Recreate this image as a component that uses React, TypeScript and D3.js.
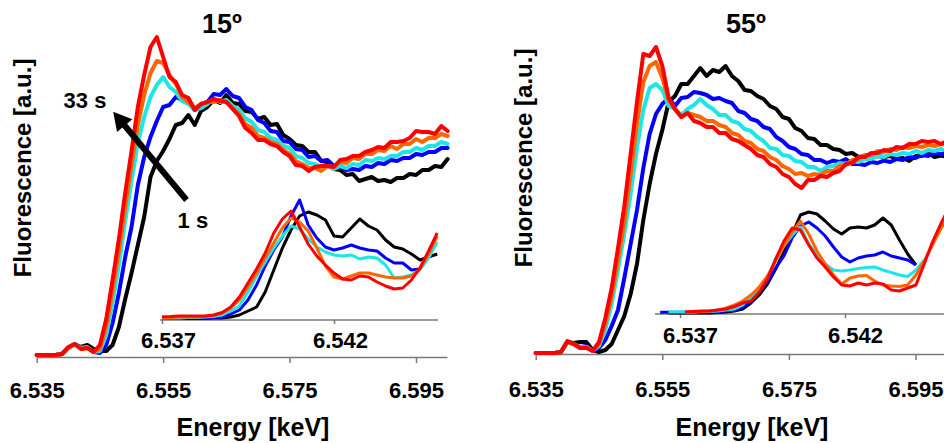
import React, { useEffect, useRef } from "react";
import * as d3 from "d3";

const W = 944;
const H = 443;
const FONT = "'Liberation Sans', Arial, Helvetica, sans-serif";

// black = 1 s ... red = 33 s (red drawn last, on top)
const seriesColors = ["#000000", "#0000ff", "#1ee6e6", "#ff6600", "#ff0000"];

// main spectra sampled at eV offsets above 6.535 keV
const mainOffsets = [0, ...d3.range(3, 66)];
const mainEnergy = mainOffsets.map((d) => 6.535 + d / 1000);
const mainTicks = [6.535, 6.555, 6.575, 6.595];

// ---- 15 degrees, main
const main15Black = [0.01, 0.01, 0.015, 0.045, 0.065, 0.05, 0.06, 0.04,
  0.03, 0.03, 0.06, 0.15, 0.29, 0.42, 0.56, 0.7, 0.9, 0.98,
  1.03, 1.09, 1.16, 1.17, 1.21, 1.16, 1.23, 1.25, 1.285, 1.27,
  1.31, 1.27, 1.265, 1.23, 1.225, 1.19, 1.2, 1.16, 1.165, 1.11,
  1.09, 1.06, 1.055, 1.025, 1.025, 0.98, 0.975, 0.94, 0.935, 0.91,
  0.915, 0.88, 0.89, 0.9, 0.88, 0.885, 0.875, 0.895, 0.895, 0.915,
  0.91, 0.935, 0.935, 0.955, 0.95, 0.99];
const main15Blue = [0.01, 0.01, 0.015, 0.045, 0.065, 0.045, 0.05, 0.025,
  0.02, 0.06, 0.17, 0.32, 0.5, 0.65, 0.86, 1.0, 1.1, 1.18,
  1.25, 1.26, 1.3, 1.285, 1.275, 1.235, 1.255, 1.275, 1.315, 1.31,
  1.34, 1.305, 1.295, 1.25, 1.235, 1.185, 1.17, 1.13, 1.125, 1.08,
  1.075, 1.04, 1.035, 1.0, 1.005, 0.98, 0.985, 0.955, 0.955, 0.935,
  0.94, 0.935, 0.955, 0.95, 0.97, 0.965, 0.985, 0.98, 0.995, 0.995,
  1.015, 1.01, 1.025, 1.025, 1.045, 1.045];
const main15Cyan = [0.01, 0.01, 0.015, 0.045, 0.065, 0.045, 0.05, 0.025,
  0.03, 0.11, 0.27, 0.46, 0.68, 0.88, 1.07, 1.2, 1.3, 1.36,
  1.4, 1.35, 1.325, 1.28, 1.265, 1.235, 1.245, 1.265, 1.29, 1.275,
  1.285, 1.255, 1.235, 1.195, 1.175, 1.135, 1.125, 1.095, 1.085, 1.055,
  1.045, 1.005, 0.995, 0.97, 0.965, 0.95, 0.955, 0.94, 0.955, 0.945,
  0.965, 0.96, 0.985, 0.98, 0.995, 0.99, 1.005, 1.005, 1.025, 1.025,
  1.045, 1.035, 1.055, 1.055, 1.075, 1.065];
const main15Orange = [0.01, 0.01, 0.015, 0.045, 0.065, 0.04, 0.045, 0.025,
  0.04, 0.15, 0.33, 0.53, 0.75, 0.96, 1.16, 1.31, 1.42, 1.48,
  1.47, 1.41, 1.365, 1.3, 1.275, 1.245, 1.265, 1.275, 1.275, 1.285,
  1.275, 1.245, 1.215, 1.165, 1.145, 1.105, 1.095, 1.075, 1.065, 1.035,
  1.015, 0.98, 0.965, 0.945, 0.945, 0.93, 0.955, 0.95, 0.975, 0.97,
  0.995, 0.99, 1.015, 1.015, 1.035, 1.03, 1.055, 1.04, 1.065, 1.065,
  1.09, 1.075, 1.095, 1.095, 1.115, 1.105];
const main15Red = [0.01, 0.01, 0.015, 0.05, 0.065, 0.04, 0.045, 0.025,
  0.06, 0.19, 0.385, 0.59, 0.82, 1.03, 1.25, 1.41, 1.55, 1.6,
  1.5, 1.4, 1.375, 1.31, 1.295, 1.235, 1.265, 1.275, 1.29, 1.28,
  1.275, 1.24, 1.205, 1.145, 1.12, 1.085, 1.085, 1.065, 1.055, 1.025,
  1.005, 0.96, 0.955, 0.93, 0.95, 0.955, 0.955, 0.95, 0.985, 0.99,
  1.005, 1.005, 1.025, 1.035, 1.05, 1.045, 1.075, 1.075, 1.08, 1.095,
  1.13, 1.125, 1.125, 1.115, 1.155, 1.13];

// ---- 55 degrees, main
const main55Black = [0.005, 0.005, 0.01, 0.06, 0.055, 0.06, 0.06, 0.02,
  0.01, 0.02, 0.05, 0.12, 0.19, 0.3, 0.45, 0.67, 0.85, 1.0,
  1.12, 1.26, 1.29, 1.35, 1.35, 1.39, 1.43, 1.39, 1.42, 1.41,
  1.44, 1.39, 1.365, 1.32, 1.315, 1.29, 1.275, 1.24, 1.225, 1.185,
  1.175, 1.13, 1.115, 1.08, 1.075, 1.045, 1.045, 1.025, 1.02, 1.0,
  1.005, 0.985, 0.99, 0.985, 0.99, 0.985, 0.99, 0.975, 0.98, 0.965,
  0.99, 0.99, 1.005, 0.985, 0.992, 0.985];
const main55Blue = [0.005, 0.005, 0.01, 0.06, 0.05, 0.035, 0.04, 0.015,
  0.03, 0.07, 0.14, 0.22, 0.38, 0.55, 0.72, 0.93, 1.1, 1.2,
  1.25, 1.28, 1.24, 1.28, 1.285, 1.31, 1.305, 1.295, 1.275, 1.28,
  1.265, 1.255, 1.215, 1.205, 1.175, 1.165, 1.135, 1.125, 1.085, 1.065,
  1.035, 1.025, 1.0, 0.995, 0.97, 0.97, 0.955, 0.967, 0.96, 0.975,
  0.95, 0.95, 0.945, 0.96, 0.955, 0.967, 0.96, 0.975, 0.97, 0.985,
  0.98, 0.995, 0.99, 1.005, 0.998, 1.01];
const main55Cyan = [0.005, 0.005, 0.01, 0.06, 0.05, 0.035, 0.035, 0.015,
  0.04, 0.12, 0.25, 0.42, 0.6, 0.8, 1.03, 1.22, 1.33, 1.35,
  1.32, 1.24, 1.225, 1.195, 1.225, 1.245, 1.275, 1.245, 1.225, 1.195,
  1.195, 1.165, 1.155, 1.125, 1.115, 1.085, 1.065, 1.03, 1.025, 0.995,
  0.99, 0.965, 0.96, 0.935, 0.935, 0.915, 0.935, 0.94, 0.955, 0.95,
  0.965, 0.96, 0.975, 0.975, 0.99, 0.985, 1.0, 0.995, 1.005, 1.0,
  1.015, 1.005, 1.02, 1.015, 1.025, 1.015];
const main55Orange = [0.005, 0.005, 0.01, 0.06, 0.05, 0.03, 0.035, 0.015,
  0.05, 0.15, 0.29, 0.47, 0.66, 0.9, 1.15, 1.36, 1.44, 1.46,
  1.38, 1.27, 1.225, 1.185, 1.205, 1.195, 1.185, 1.165, 1.165, 1.145,
  1.135, 1.105, 1.095, 1.065, 1.055, 1.025, 1.015, 0.985, 0.97, 0.94,
  0.925, 0.9, 0.905, 0.89, 0.9, 0.895, 0.915, 0.915, 0.94, 0.945,
  0.97, 0.975, 0.995, 0.995, 1.015, 1.01, 1.025, 1.02, 1.035, 1.03,
  1.04, 1.035, 1.045, 1.04, 1.05, 1.045];
const main55Red = [0.005, 0.005, 0.01, 0.065, 0.05, 0.03, 0.03, 0.015,
  0.06, 0.18, 0.33, 0.53, 0.74, 1.0, 1.26, 1.5, 1.49, 1.535,
  1.44, 1.28, 1.225, 1.185, 1.205, 1.165, 1.155, 1.135, 1.135, 1.105,
  1.105, 1.075, 1.065, 1.045, 1.025, 0.995, 0.985, 0.95, 0.935, 0.9,
  0.885, 0.85, 0.83, 0.87, 0.87, 0.89, 0.885, 0.905, 0.915, 0.95,
  0.955, 0.985, 0.985, 1.005, 1.005, 1.02, 1.015, 1.035, 1.03, 1.05,
  1.05, 1.065, 1.06, 1.065, 1.05, 1.065];

// ---- insets (pre-edge zoom), 0.25 eV steps
const insetEnergy15 = d3.range(33).map((k) => 6.537 + k * 0.00025);
const insetEnergy55 = d3.range(36).map((k) => 6.5364 + k * 0.00025);
const insetTicks = [6.537, 6.542];

const inset15Black = [0.015, 0.015, 0.015, 0.015, 0.015, 0.015, 0.02, 0.02, 0.03, 0.05, 0.09,
  0.13, 0.28, 0.5, 0.72, 0.9, 1.04, 1.08, 1.05, 1.0, 0.84, 0.83, 0.92, 1.01, 0.94, 0.9, 0.8,
  0.73, 0.71, 0.66, 0.6, 0.63, 0.66];
const inset15Blue = [0.02, 0.02, 0.02, 0.02, 0.02, 0.02, 0.025, 0.03, 0.06, 0.1, 0.2, 0.35,
  0.54, 0.7, 0.83, 1.04, 1.2, 0.95, 0.82, 0.73, 0.7, 0.72, 0.75, 0.72, 0.7, 0.69, 0.62, 0.57,
  0.57, 0.5, 0.51];
const inset15Cyan = [0.02, 0.02, 0.02, 0.025, 0.025, 0.03, 0.035, 0.05, 0.09, 0.14, 0.28, 0.44,
  0.58, 0.72, 0.84, 0.94, 0.91, 0.81, 0.73, 0.68, 0.65, 0.64, 0.65, 0.61, 0.63, 0.62, 0.55,
  0.42, 0.43, 0.45, 0.5, 0.62, 0.78];
const inset15Orange = [0.02, 0.025, 0.03, 0.03, 0.03, 0.035, 0.045, 0.07, 0.12, 0.2, 0.33, 0.47,
  0.62, 0.77, 0.92, 1.02, 0.98, 0.89, 0.72, 0.54, 0.43, 0.41, 0.44, 0.47, 0.47, 0.45, 0.43,
  0.42, 0.42, 0.44, 0.51, 0.66, 0.84];
const inset15Red = [0.033, 0.035, 0.04, 0.04, 0.04, 0.04, 0.05, 0.075, 0.13, 0.23, 0.37, 0.51,
  0.67, 0.87, 1.01, 1.09, 0.93, 0.76, 0.64, 0.55, 0.47, 0.41, 0.4, 0.44, 0.43, 0.38, 0.34,
  0.31, 0.32, 0.4, 0.52, 0.69, 0.87];

const inset55Black = [null, 0.01, 0.01, 0.01, 0.01, 0.01, 0.01, 0.015, 0.02, 0.03, 0.05, 0.11,
  0.19, 0.3, 0.45, 0.62, 0.8, 0.99, 1.02, 1.0, 0.93, 0.85, 0.8, 0.86, 0.87, 0.86, 0.89, 0.96,
  0.89, 0.74, 0.6, 0.49];
const inset55Blue = [0.017, 0.017, 0.017, 0.017, 0.017, 0.017, 0.02, 0.02, 0.03, 0.04, 0.07,
  0.12, 0.22, 0.33, 0.46, 0.58, 0.76, 0.88, 0.92, 0.86, 0.78, 0.67, 0.57, 0.52, 0.56, 0.58,
  0.59, 0.62, 0.58, 0.56, 0.54, 0.49];
const inset55Cyan = [null, 0.02, 0.02, 0.02, 0.02, 0.025, 0.025, 0.03, 0.04, 0.05, 0.09, 0.17,
  0.24, 0.36, 0.56, 0.68, 0.79, 0.87, 0.7, 0.59, 0.5, 0.44, 0.43, 0.44, 0.455, 0.465, 0.47,
  0.44, 0.415, 0.39, 0.375, 0.44, 0.54];
const inset55Orange = [null, null, null, 0.015, 0.02, 0.025, 0.03, 0.04, 0.06, 0.09, 0.13, 0.19,
  0.27, 0.38, 0.53, 0.68, 0.82, 0.93, 0.8, 0.63, 0.5, 0.39, 0.3, 0.36, 0.38, 0.385, 0.33, 0.29,
  0.28, 0.275, 0.29, 0.39, 0.53, 0.69, 0.85, 0.98];
const inset55Red = [null, null, null, 0.02, 0.025, 0.03, 0.03, 0.04, 0.05, 0.075, 0.11, 0.13,
  0.22, 0.35, 0.55, 0.73, 0.86, 0.84, 0.69, 0.56, 0.47, 0.37, 0.29, 0.28, 0.31, 0.29, 0.31,
  0.3, 0.24, 0.23, 0.26, 0.29, 0.5, 0.72, 0.9, 1.06];

// layout of the two panels
const panels = [
  {
    title: "15º",
    titleX: 222,
    yLabelX: 31,
    yLabelY: 168,
    xLabelX: 253,
    axisY: 357,
    mainDomain: [6.535, 6.5999],
    mainRange: [36.7, 447],
    mainLabelY: 41,
    main: [main15Black, main15Blue, main15Cyan, main15Orange, main15Red],
    insetEnergy: insetEnergy15,
    insetAxisY: 320,
    insetDomain: [6.537, 6.545],
    insetRange: [162, 437.2],
    insetLineFrom: 160,
    insetLineTo: 438,
    insetLabelY: 28,
    insetLabelDx: 6,
    inset: [inset15Black, inset15Blue, inset15Cyan, inset15Orange, inset15Red],
    arrow: true,
  },
  {
    title: "55º",
    titleX: 746,
    yLabelX: 532,
    yLabelY: 158,
    xLabelX: 752,
    axisY: 354,
    mainDomain: [6.535, 6.5995],
    mainRange: [535.7, 944],
    mainLabelY: 43,
    main: [main55Black, main55Blue, main55Cyan, main55Orange, main55Red],
    insetEnergy: insetEnergy55,
    insetAxisY: 314,
    insetDomain: [6.536242, 6.545],
    insetRange: [655, 944],
    insetLineFrom: 655,
    insetLineTo: 944,
    insetLabelY: 29,
    insetLabelDx: 10,
    inset: [inset55Black, inset55Blue, inset55Cyan, inset55Orange, inset55Red],
    arrow: false,
  },
];

function drawPanel(svg: any, p: any) {
  const g = svg.append("g");

  const x = d3.scaleLinear().domain(p.mainDomain).range(p.mainRange);
  const y = d3.scaleLinear().domain([0, 1.6]).range([p.axisY, p.axisY - 320]);

  // main axis
  const ax = g
    .append("g")
    .attr("transform", `translate(0,${p.axisY})`)
    .call(
      d3
        .axisBottom(x)
        .tickValues(mainTicks)
        .tickFormat(d3.format(".3f"))
        .tickSize(6)
        .tickSizeOuter(0)
    );
  ax.select(".domain").attr("stroke", "#7a7a7a").attr("stroke-width", 1.5);
  ax.selectAll(".tick line").attr("stroke", "#7a7a7a").attr("stroke-width", 1.5);
  ax.selectAll(".tick text")
    .attr("y", p.mainLabelY)
    .attr("dy", 0)
    .attr("fill", "#000")
    .style("font-family", FONT)
    .style("font-weight", "bold")
    .style("font-size", "22px");

  const line = d3
    .line<[number, number | null]>()
    .defined((d) => d[1] != null)
    .x((d) => x(d[0]))
    .y((d) => y(d[1] as number));

  p.main.forEach((vals: number[], i: number) => {
    g.append("path")
      .datum(vals.map((v, j) => [mainEnergy[j], v]))
      .attr("d", line)
      .attr("fill", "none")
      .attr("stroke", seriesColors[i])
      .attr("stroke-width", 4)
      .attr("stroke-linejoin", "round")
      .attr("stroke-linecap", "round");
  });

  // inset
  const xi = d3.scaleLinear().domain(p.insetDomain).range(p.insetRange);
  const yi = d3.scaleLinear().domain([0, 1.3]).range([p.insetAxisY, p.insetAxisY - 130]);

  g.append("line")
    .attr("x1", p.insetLineFrom)
    .attr("x2", p.insetLineTo)
    .attr("y1", p.insetAxisY)
    .attr("y2", p.insetAxisY)
    .attr("stroke", "#7a7a7a")
    .attr("stroke-width", 1.5);

  const iax = g
    .append("g")
    .attr("transform", `translate(0,${p.insetAxisY})`)
    .call(
      d3
        .axisBottom(xi)
        .tickValues(insetTicks)
        .tickFormat(d3.format(".3f"))
        .tickSize(4)
        .tickSizeOuter(0)
    );
  iax.select(".domain").remove();
  iax.selectAll(".tick line").attr("stroke", "#7a7a7a").attr("stroke-width", 1.5);
  iax.selectAll(".tick text")
    .attr("y", p.insetLabelY)
    .attr("dy", 0)
    .attr("dx", p.insetLabelDx)
    .attr("fill", "#000")
    .style("font-family", FONT)
    .style("font-weight", "bold")
    .style("font-size", "22px");

  const iline = d3
    .line<[number, number | null]>()
    .defined((d) => d[1] != null)
    .x((d) => xi(d[0]))
    .y((d) => yi(d[1] as number));

  p.inset.forEach((vals: (number | null)[], i: number) => {
    g.append("path")
      .datum(vals.map((v, j) => [p.insetEnergy[j], v]))
      .attr("d", iline)
      .attr("fill", "none")
      .attr("stroke", seriesColors[i])
      .attr("stroke-width", 3)
      .attr("stroke-linejoin", "round");
  });

  // texts
  const txt = (sel: any, size: number) =>
    sel
      .attr("text-anchor", "middle")
      .attr("fill", "#000")
      .style("font-family", FONT)
      .style("font-weight", "bold")
      .style("font-size", `${size}px`);

  txt(g.append("text").attr("x", p.titleX).attr("y", 33).text(p.title), 27);
  txt(g.append("text").attr("x", p.xLabelX).attr("y", 436).text("Energy [keV]"), 25);
  txt(
    g
      .append("text")
      .attr("transform", `translate(${p.yLabelX},${p.yLabelY}) rotate(-90)`)
      .text("Fluorescence [a.u.]"),
    24
  );

  if (p.arrow) {
    // arrow from the 1 s curve towards the 33 s curve
    const [x0, y0] = [x(6.5587), y(0.785)];
    const [x1, y1] = [x(6.5471), y(1.2265)];
    const len = Math.hypot(x1 - x0, y1 - y0);
    const ux = (x1 - x0) / len;
    const uy = (y1 - y0) / len;
    const headL = 18;
    const headW = 10;
    const bx = x1 - ux * headL;
    const by = y1 - uy * headL;
    g.append("line")
      .attr("x1", x0)
      .attr("y1", y0)
      .attr("x2", bx + ux * 2)
      .attr("y2", by + uy * 2)
      .attr("stroke", "#000")
      .attr("stroke-width", 6);
    g.append("polygon")
      .attr(
        "points",
        [
          [x1, y1],
          [bx - uy * headW, by + ux * headW],
          [bx + uy * headW, by - ux * headW],
        ]
          .map((pt) => pt.join(","))
          .join(" ")
      )
      .attr("fill", "#000");
    txt(g.append("text").attr("x", x(6.54264)).attr("y", y(1.245)).text("33 s"), 22);
    txt(g.append("text").attr("x", x(6.5597)).attr("y", y(0.645)).text("1 s"), 22);
  }
}

export default function App() {
  const svgRef = useRef<SVGSVGElement>(null);

  useEffect(() => {
    const svg = d3.select(svgRef.current);
    svg.selectAll("*").remove();
    svg.append("rect").attr("width", W).attr("height", H).attr("fill", "#fff");
    panels.forEach((p) => drawPanel(svg, p));
  }, []);

  return (
    <svg
      ref={svgRef}
      width={W}
      height={H}
      style={{ position: "absolute", left: 0, top: 0, display: "block" }}
    />
  );
}
